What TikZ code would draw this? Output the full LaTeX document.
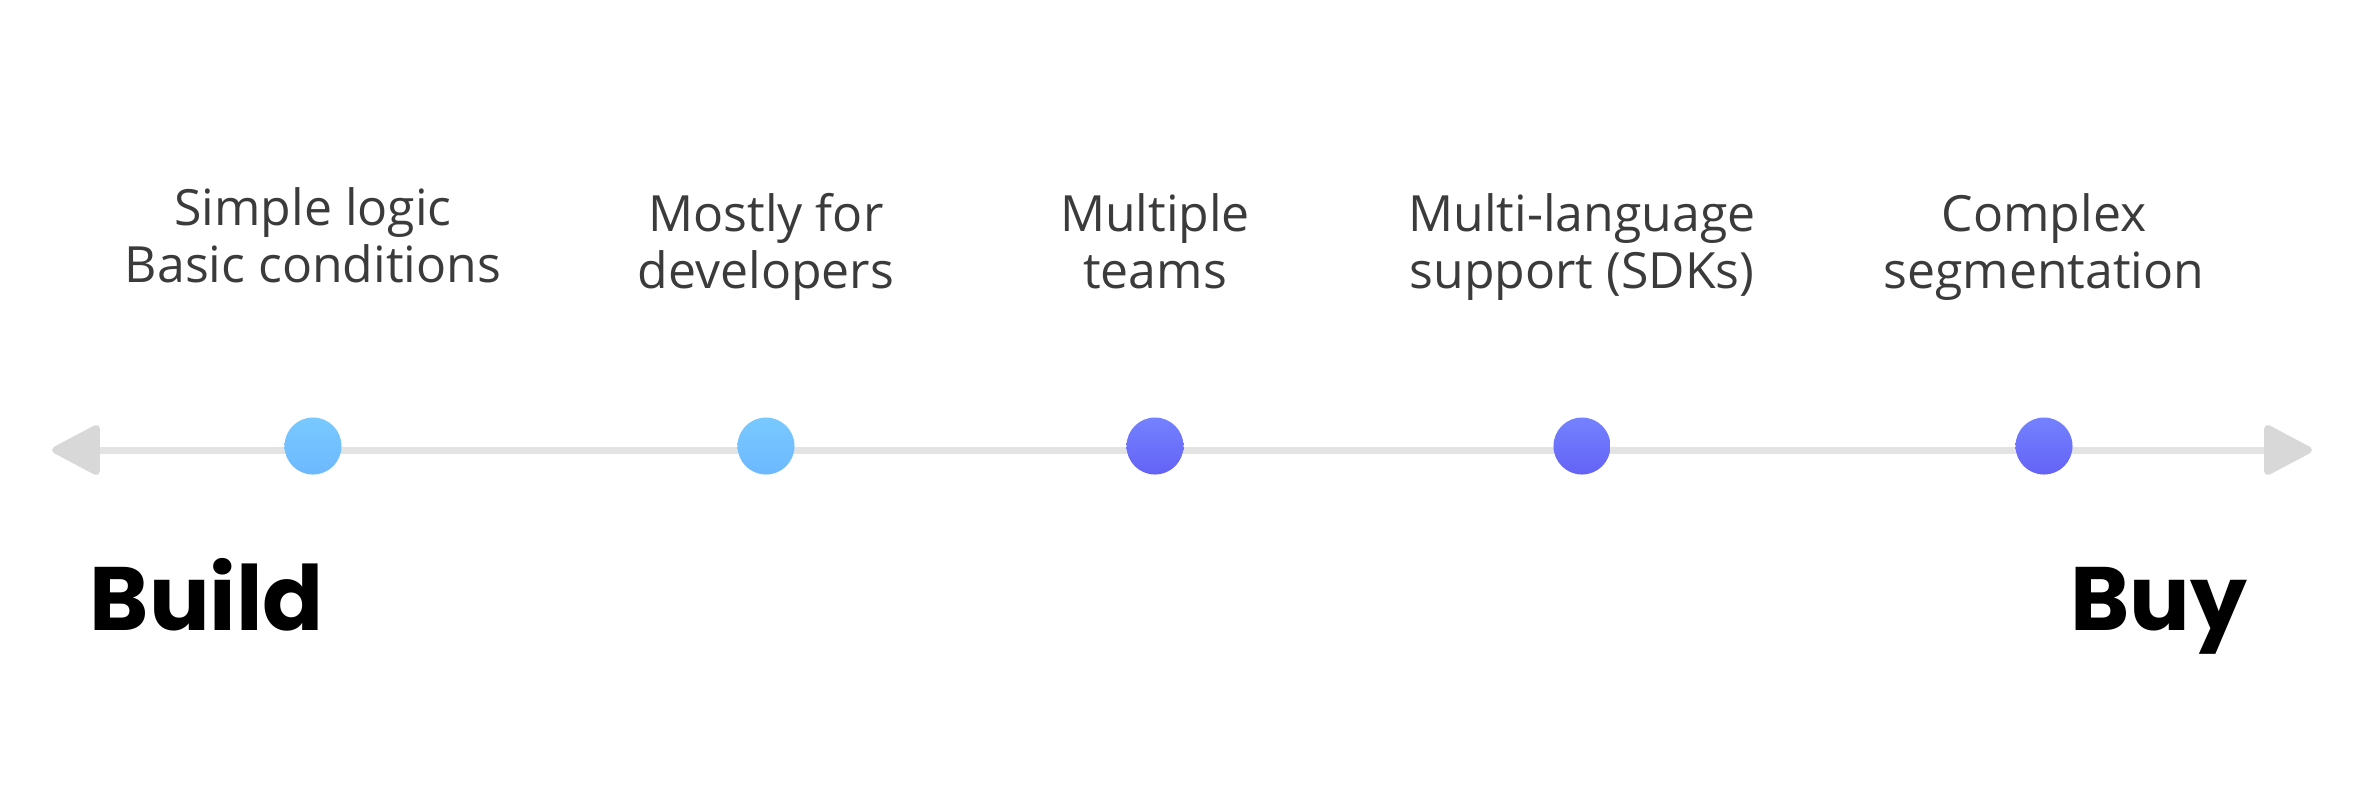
\documentclass[tikz,border=0pt]{standalone}
\usepackage{fontspec}
\setmainfont{Open Sans}
\newfontfamily\headfont{Poppins}
\usetikzlibrary{arrows.meta,positioning}

\definecolor{axisgray}{HTML}{E3E3E3}
\definecolor{tipgray}{HTML}{D8D8D8}
\definecolor{notegray}{HTML}{3B3B3B}
\definecolor{skytop}{HTML}{78C9FF}
\definecolor{skybottom}{HTML}{6DB8FF}
\definecolor{violettop}{HTML}{7482FF}
\definecolor{violetbottom}{HTML}{6462F6}

\begin{document}
\begin{tikzpicture}[
    x=0.01cm, y=-0.01cm,
    axis/.style={line width=0.07cm, color=axisgray,
        {Triangle[round, length=0.52cm, width=0.53cm, color=tipgray]}-{Triangle[round, length=0.52cm, width=0.53cm, color=tipgray]}},
    dot/.style={circle, minimum size=0.57cm, inner sep=0pt},
    early/.style={dot, top color=skytop, bottom color=skybottom},
    late/.style={dot, top color=violettop, bottom color=violetbottom},
    note/.style={anchor=north, inner sep=0pt, align=center, text=notegray, font=\fontsize{14.2}{16.2}\selectfont},
    side/.style={anchor=base west, inner sep=0pt, font=\headfont\bfseries\fontsize{25.6}{30}\selectfont}
]
\useasboundingbox (0,0) rectangle (2374,805);

% Axis
\coordinate (leftEnd) at (52,450);
\coordinate (rightEnd) at (2312,450);
\draw[axis] (leftEnd) -- (rightEnd);

% Milestones
\node[early] (simpleDot) at (313,446) {};
\node[early] (devDot) at (766,446) {};
\node[late] (teamsDot) at (1155,446) {};
\node[late] (sdkDot) at (1582,446) {};
\node[late] (segmentDot) at (2044,446) {};

% Labels
\node[note] (simpleNote) at (313,187) {Simple logic\\Basic conditions};
\node[note] (devNote) at (766,193) {Mostly for\\developers};
\node[note] (teamsNote) at (1155,193) {Multiple\\teams};
\node[note] (sdkNote) at (1582,193) {Multi-language\\support (SDKs)};
\node[note] (segmentNote) at (2044,193) {Complex\\segmentation};

% Ends
\node[side] (buildLabel) at (89,630) {Build};
\node[side, anchor=base east] (buyLabel) at (2248,630) {Buy};

\end{tikzpicture}
\end{document}
